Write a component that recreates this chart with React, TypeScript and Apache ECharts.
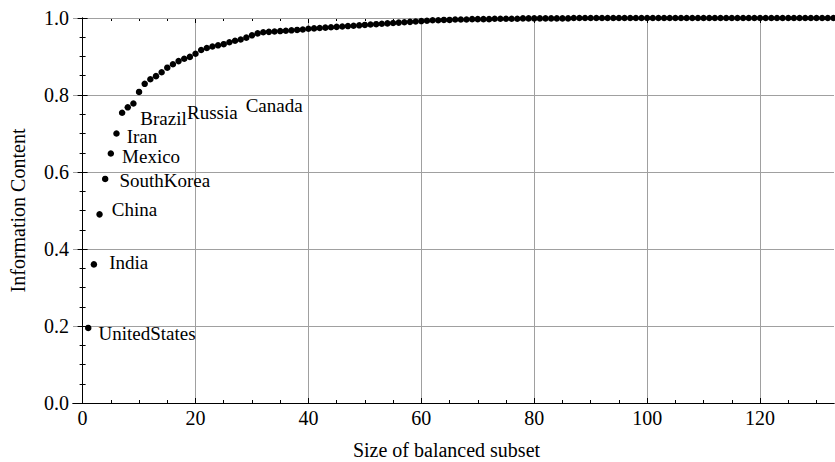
import React, { useEffect, useRef } from "react";
import * as echarts from "echarts";

// Information content for balanced subset sizes 1..133
const infoContent = [
  0.195, 0.36, 0.49, 0.582, 0.648, 0.7, 0.754, 0.768, 0.778, 0.808,
  0.829, 0.841, 0.849, 0.859, 0.871, 0.88, 0.888, 0.894, 0.899, 0.907,
  0.917, 0.922, 0.926, 0.929, 0.932, 0.937, 0.941, 0.944, 0.949, 0.955,
  0.96, 0.963, 0.964, 0.965, 0.966, 0.967, 0.968, 0.969, 0.97, 0.972,
  0.973, 0.974, 0.975, 0.976, 0.977, 0.978, 0.979, 0.98, 0.981, 0.982,
  0.983, 0.984, 0.985, 0.986, 0.987, 0.988, 0.989, 0.99, 0.991, 0.992,
  0.993, 0.994, 0.994, 0.995, 0.995, 0.996, 0.996, 0.996, 0.997, 0.997,
  0.997, 0.997, 0.998, 0.998, 0.998, 0.998, 0.998, 0.999, 0.999, 0.999,
  0.999, 0.999, 0.999, 0.999, 0.999, 0.999, 1.0, 1.0, 1.0, 1.0,
  1.0, 1.0, 1.0, 1.0, 1.0, 1.0, 1.0, 1.0, 1.0, 1.0,
  1.0, 1.0, 1.0, 1.0, 1.0, 1.0, 1.0, 1.0, 1.0, 1.0,
  1.0, 1.0, 1.0, 1.0, 1.0, 1.0, 1.0, 1.0, 1.0, 1.0,
  1.0, 1.0, 1.0, 1.0, 1.0, 1.0, 1.0, 1.0, 1.0, 1.0,
  1.0, 1.0, 1.0,
];

// Names attached to the first points
const pointLabels = [
  "UnitedStates", "India", "China", "SouthKorea", "Mexico",
  "Iran", "Brazil", "Russia", "Canada",
];

const xTickStep = 20;
const yTickStep = 0.2;
const xTitle = "Size of balanced subset";
const yTitle = "Information Content";

// label placement (style, not data)
const labelOffsets: [number, number][] = [
  [7, 6], [12, -2], [9, -5], [11, 2], [8, 3], [7, 3], [15, 6], [56, 5], [109, 2],
];

const FONT = "Liberation Serif";
const GRID_COLOR = "#a0a0a0";

export default function App() {
  const ref = useRef<HTMLDivElement>(null);
  useEffect(() => {
    document.body.style.margin = "0";
    const chart = echarts.init(ref.current!, null, { renderer: "svg" });

    const left = 73;
    const rightEdge = 834;
    const top = 18;
    const bottom = 462 - 403;
    const xMin = -1.7;
    const xMax = 133.1;
    const pxPerUnit = (rightEdge - left) / (xMax - xMin);
    const zeroPx = left + (0 - xMin) * pxPerUnit;
    const extMax = 140;
    const gridStartPx = zeroPx + xTickStep * pxPerUnit;

    const data = infoContent.map((v, i) => {
      const item: any = { value: [i + 1, v] };
      if (i < pointLabels.length) {
        item.label = {
          show: true,
          formatter: pointLabels[i],
          position: "right",
          distance: 0,
          offset: labelOffsets[i],
          fontFamily: FONT,
          fontSize: 19,
          color: "#000",
        };
      }
      return item;
    });

    const hiddenY = (gridIndex: number) => ({
      gridIndex,
      type: "value",
      min: 0,
      max: 1,
      show: false,
    });

    const tickText = { fontFamily: FONT, fontSize: 20, color: "#000" };
    const titleText = { fontFamily: FONT, fontSize: 20, color: "#000" };

    chart.setOption({
      animation: false,
      grid: [
        { left, width: rightEdge - left, top, bottom, outerBoundsMode: "none", containLabel: false },
        { left: zeroPx, width: extMax * pxPerUnit, top, bottom, outerBoundsMode: "none", containLabel: false },
        { left: gridStartPx, width: (extMax - xTickStep) * pxPerUnit, top, bottom, outerBoundsMode: "none", containLabel: false },
      ],
      xAxis: [
        {
          gridIndex: 0,
          type: "value",
          min: xMin,
          max: xMax,
          position: "bottom",
          z: 5,
          axisLine: { show: true, lineStyle: { color: "#000", width: 1 } },
          axisTick: { show: false },
          axisLabel: { show: false },
          splitLine: { show: false },
          name: xTitle,
          nameLocation: "middle",
          nameGap: 37,
          nameTextStyle: { ...titleText, padding: [0, 14, 0, 0] },
        },
        {
          gridIndex: 0,
          type: "value",
          min: xMin,
          max: xMax,
          position: "top",
          z: 5,
          axisLine: { show: true, lineStyle: { color: "#000", width: 1 } },
          axisTick: { show: false },
          axisLabel: { show: false },
          splitLine: { show: false },
        },
        {
          gridIndex: 1,
          type: "value",
          min: 0,
          max: extMax,
          interval: xTickStep,
          position: "bottom",
          z: 4,
          axisLine: { show: false },
          axisTick: { show: true, inside: true, length: 5, lineStyle: { color: "#000" } },
          minorTick: { show: true, splitNumber: 4, length: 3, lineStyle: { color: "#000" } },
          axisLabel: { show: true, margin: 5, ...tickText, showMaxLabel: false },
          splitLine: { show: false },
        },
        {
          gridIndex: 1,
          type: "value",
          min: 0,
          max: extMax,
          interval: xTickStep,
          position: "top",
          z: 4,
          axisLine: { show: false },
          axisTick: { show: true, inside: true, length: 5, lineStyle: { color: "#000" } },
          minorTick: { show: true, splitNumber: 4, length: 3, lineStyle: { color: "#000" } },
          axisLabel: { show: false },
          splitLine: { show: false },
        },
        {
          gridIndex: 2,
          type: "value",
          min: xTickStep,
          max: extMax,
          interval: xTickStep,
          position: "bottom",
          z: 1,
          axisLine: { show: false },
          axisTick: { show: false },
          axisLabel: { show: false },
          splitLine: { show: true, lineStyle: { color: GRID_COLOR, width: 1 } },
        },
      ],
      yAxis: [
        {
          gridIndex: 0,
          type: "value",
          min: 0,
          max: 1,
          interval: yTickStep,
          position: "left",
          z: 5,
          axisLine: { show: true, lineStyle: { color: "#000", width: 1 } },
          axisTick: { show: true, inside: true, length: 5, lineStyle: { color: "#000" } },
          minorTick: { show: true, splitNumber: 4, length: 3, lineStyle: { color: "#000" } },
          axisLabel: {
            show: true,
            margin: 4,
            ...tickText,
            formatter: (v: number) => v.toFixed(1),
          },
          splitLine: { show: true, lineStyle: { color: GRID_COLOR, width: 1 } },
          name: yTitle,
          nameLocation: "middle",
          nameGap: 45,
          nameTextStyle: { ...titleText },
        },
        {
          gridIndex: 0,
          type: "value",
          min: 0,
          max: 1,
          interval: yTickStep,
          position: "right",
          z: 5,
          axisLine: { show: true, lineStyle: { color: "#000", width: 1 } },
          axisTick: { show: true, inside: true, length: 5, lineStyle: { color: "#000" } },
          minorTick: { show: true, splitNumber: 4, length: 3, lineStyle: { color: "#000" } },
          axisLabel: { show: false },
          splitLine: { show: false },
        },
        hiddenY(1),
        hiddenY(2),
      ],
      series: [
        {
          type: "scatter",
          xAxisIndex: 0,
          yAxisIndex: 0,
          symbol: "circle",
          symbolSize: 6.5,
          itemStyle: { color: "#000", opacity: 1 },
          z: 10,
          data,
        },
      ],
    });
    return () => chart.dispose();
  }, []);
  return <div ref={ref} style={{ width: 835, height: 462 }} />;
}
